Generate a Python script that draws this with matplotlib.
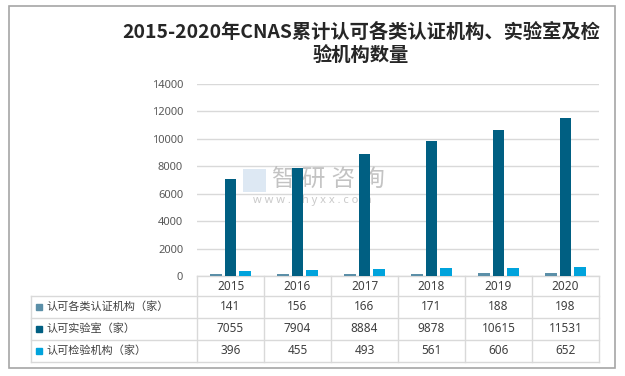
import numpy as np
import matplotlib
matplotlib.use('Agg')
import matplotlib.pyplot as plt
from matplotlib.patches import Rectangle

plt.rcParams['font.family'] = ['Noto Sans', 'Noto Sans CJK SC', 'DejaVu Sans']

years = ['2015', '2016', '2017', '2018', '2019', '2020']
series_names = ['认可各类认证机构（家）', '认可实验室（家）', '认可检验机构（家）']
cert_bodies = [141, 156, 166, 171, 188, 198]
labs = [7055, 7904, 8884, 9878, 10615, 11531]
inspection_bodies = [396, 455, 493, 561, 606, 652]
colors = ['#5B8FA8', '#005F82', '#00A3DC']
title = '2015-2020年CNAS累计认可各类认证机构、实验室及检\n验机构数量'

W, H = 625, 376
fig = plt.figure(figsize=(W / 100, H / 100), dpi=100)
ax = fig.add_axes([197 / W, 100 / H, 402 / W, 192 / H])

x = np.arange(len(years))
series = [cert_bodies, labs, inspection_bodies]
offsets = [-0.218, 0, 0.218]
for vals, off, c in zip(series, offsets, colors):
    ax.bar(x + off, vals, width=0.17, color=c, zorder=3)

ax.set_xlim(-0.5, len(years) - 0.5)
ax.set_ylim(0, 14000)
ax.set_yticks(range(0, 14001, 2000))
ax.grid(axis='y', color='#D9D9D9', lw=1)
ax.set_axisbelow(True)
for s in ax.spines.values():
    s.set_visible(False)
ax.tick_params(axis='y', length=0, pad=10, labelsize=8, labelcolor='#595959')
ax.set_xticks([])

# data table under the axis
line_c = '#D9D9D9'
txt_c = '#404040'
left = (31 - 197) / 402
rows_y = [0, -20 / 192, -42 / 192, -64 / 192, -86 / 192]
for i, yy in enumerate(rows_y):
    x0 = 0 if i == 0 else left
    ax.plot([x0, 1], [yy, yy], color=line_c, lw=1, transform=ax.transAxes, clip_on=False)
ax.plot([left, left], [rows_y[1], rows_y[-1]], color=line_c, lw=1,
        transform=ax.transAxes, clip_on=False)
for k in range(len(years) + 1):
    ax.plot([k / len(years)] * 2, [0, rows_y[-1]], color=line_c, lw=1,
            transform=ax.transAxes, clip_on=False)

xt = ax.get_xaxis_transform()
for i, yr in enumerate(years):
    ax.text(i, (rows_y[0] + rows_y[1]) / 2, yr, transform=xt, ha='center', va='center',
            fontsize=8.5, color=txt_c)
for r, (name, vals, c) in enumerate(zip(series_names, series, colors)):
    yc = (rows_y[r + 1] + rows_y[r + 2]) / 2
    ax.plot([(38.5 - 197) / 402], [yc], marker='s', ms=5, color=c, transform=ax.transAxes,
            clip_on=False)
    ax.text((46 - 197) / 402, yc, name, transform=ax.transAxes, ha='left', va='center',
            fontsize=8, color=txt_c)
    for i, v in enumerate(vals):
        ax.text(i, yc, str(v), transform=xt, ha='center', va='center', fontsize=8.5, color=txt_c)

# watermark (behind the bars)
ax.add_patch(Rectangle((243 / W, 1 - 192 / H), 23 / W, 23 / H, transform=fig.transFigure,
                       facecolor='#D5E3F0', edgecolor='none', zorder=2, alpha=0.8))
ax.text(328 / W, 1 - 181 / H, '智 研 咨 询', transform=fig.transFigure, ha='center',
        va='center', fontsize=17, color='#B5B5B5', alpha=0.8, zorder=2)
ax.text(312 / W, 1 - 201 / H, 'w w w . c h y x x . c o m', transform=fig.transFigure,
        ha='center', va='center', fontsize=8, color='#BDBDBD', alpha=0.8, zorder=2)

fig.text(361 / W, 1 - 44 / H, title, ha='center', va='center', fontsize=13.9,
         fontweight='bold', color='#262626', linespacing=1.3,
         family=['Noto Sans CJK SC', 'DejaVu Sans'])

fig.patches.append(Rectangle((9 / W, 8 / H), 606 / W, 362 / H, transform=fig.transFigure,
                             fill=False, edgecolor='#A6A6A6', lw=1.2))

fig.savefig('out.png', dpi=100)
